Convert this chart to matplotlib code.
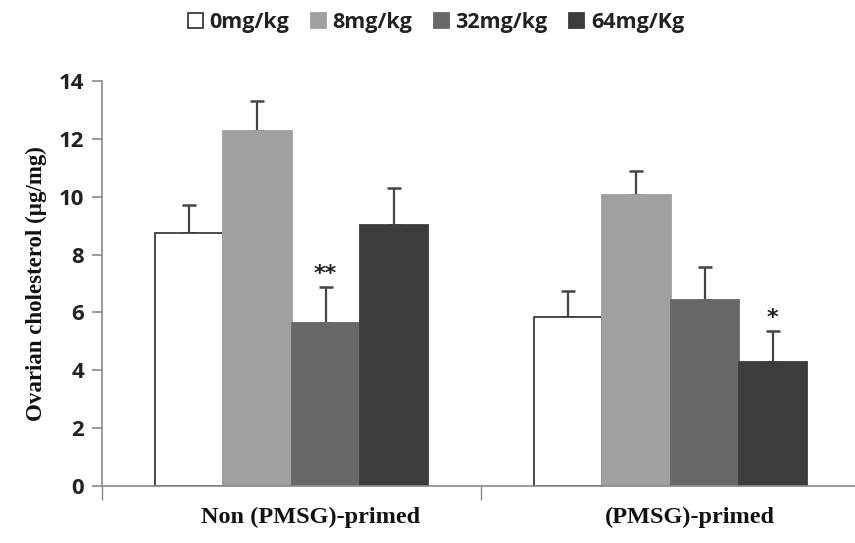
import numpy as np
import matplotlib.pyplot as plt

groups = ["Non (PMSG)-primed", "(PMSG)-primed"]
doses = ["0mg/kg", "8mg/kg", "32mg/kg", "64mg/Kg"]

# mean values per dose, one entry per group
means = {
    "0mg/kg": [8.74, 5.84],
    "8mg/kg": [12.26, 10.05],
    "32mg/kg": [5.63, 6.42],
    "64mg/Kg": [9.02, 4.28],
}
errs = {
    "0mg/kg": [0.97, 0.90],
    "8mg/kg": [1.04, 0.83],
    "32mg/kg": [1.24, 1.14],
    "64mg/Kg": [1.27, 1.07],
}
# significance marks: (dose, group index, text)
marks = [("32mg/kg", 0, "**"), ("64mg/Kg", 1, "*")]

colors = ["#ffffff", "#a0a0a0", "#686868", "#3c3c3c"]
edges = ["#3a3a3a", "#a0a0a0", "#686868", "#3c3c3c"]

tick_font = "Open Sans"
serif = "Liberation Serif"

fig = plt.figure(figsize=(8.55, 5.43), dpi=100)
ax = fig.add_axes([0.1193, 0.105, 0.8866, 0.746])

x = np.arange(len(groups)) + 0.5
w = 0.18
for i, d in enumerate(doses):
    pos = x + (i - 1.5) * w
    ax.bar(pos, means[d], w, color=colors[i], edgecolor=edges[i], linewidth=1.3,
           label=d, zorder=2)
    ax.errorbar(pos, means[d], yerr=[np.zeros(len(groups)), errs[d]], fmt="none",
                ecolor="#444444", elinewidth=1.6, capsize=5, capthick=1.8, zorder=1)

for d, g, txt in marks:
    i = doses.index(d)
    xp = x[g] + (i - 1.5) * w
    ax.text(xp, means[d][g] + errs[d][g] + 0.12, txt, ha="center", va="bottom",
            fontsize=16, fontweight="bold", color="#222222")

ax.set_xlim(0, 2)
ax.set_ylim(0, 14)
ax.set_yticks(range(0, 15, 2))
ax.set_xticks([0, 1, 2])
ax.set_xticklabels([])
for s in ["top", "right"]:
    ax.spines[s].set_visible(False)
for s in ["left", "bottom"]:
    ax.spines[s].set_color("#8a8a8a")
    ax.spines[s].set_linewidth(1.2)
ax.tick_params(axis="y", direction="out", length=7, color="#8a8a8a", width=1.2,
               labelsize=16, pad=6)
ax.tick_params(axis="x", direction="out", length=10, color="#8a8a8a", width=1.0)
for lab in ax.get_yticklabels():
    lab.set_fontfamily(tick_font)
    lab.set_fontweight("bold")
    lab.set_color("#222222")

for xi, g in zip(x, groups):
    ax.text(xi + 0.05, -1.1, g, ha="center", va="center", fontsize=17.5,
            fontweight="bold", family=serif, color="#111111")

ax.set_ylabel("Ovarian cholesterol (µg/mg)", fontsize=16.5, fontweight="bold",
              family=serif, labelpad=8, color="#111111")

leg = fig.legend(loc="center", bbox_to_anchor=(0.51, 0.958), ncol=4, frameon=False,
                 handlelength=0.7, handleheight=0.7, handletextpad=0.3,
                 columnspacing=1.0, prop={"family": tick_font, "weight": "bold", "size": 15.5})
for t in leg.get_texts():
    t.set_color("#222222")

fig.savefig("out.png", dpi=100)
